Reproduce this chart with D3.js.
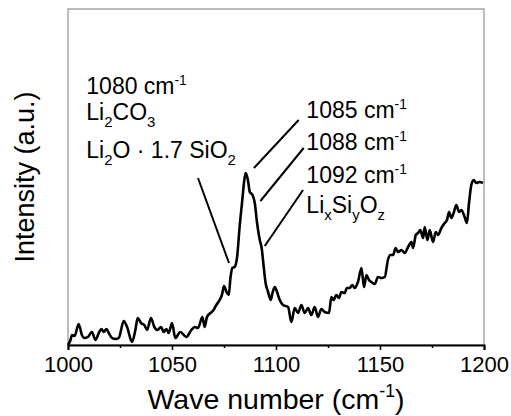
<!DOCTYPE html>
<html>
<head>
<meta charset="utf-8">
<style>
  body { margin: 0; background: #fff; }
  text { font-family: "Liberation Sans", Arial, sans-serif; fill: #000; }
</style>
</head>
<body>
<svg width="511" height="416"></svg>
<script src="https://cdn.jsdelivr.net/npm/d3@7/dist/d3.min.js"></script>
<script>
  var svg = d3.select("svg"),
      margin = {top: 9, right: 27, bottom: 71, left: 68},
      width = +svg.attr("width") - margin.left - margin.right,
      height = +svg.attr("height") - margin.top - margin.bottom,
      g = svg.append("g").attr("transform", "translate(" + margin.left + "," + margin.top + ")");

  // Raman spectrum (intensity in arbitrary units)
  var waveNumbers = [
    1000, 1001.2, 1001.9, 1003.2, 1005.1, 1006.7, 1007.9, 1009.5, 1011.5, 1013.2,
    1014.8, 1016.1, 1017.2, 1018.5, 1019.6, 1021.2, 1022.8, 1024.4, 1026.8, 1028.4,
    1030.8, 1032.4, 1033.5, 1035.1, 1036.7, 1038.0, 1039.9, 1041.5, 1043.1, 1044.7,
    1046.0, 1047.3, 1048.4, 1050.0, 1051.6, 1054.0, 1056.9, 1059.3, 1060.9, 1062.5,
    1064.6, 1065.7, 1066.8, 1068.5, 1070.0, 1071.3, 1072.9, 1074.0, 1075.0, 1076.2,
    1077.3, 1078.1, 1079.0, 1080.1, 1081.3, 1082.5, 1083.8, 1084.6, 1085.4, 1086.5,
    1087.4, 1088.7, 1089.8, 1090.9, 1092.2, 1093.1, 1094.1, 1095.0, 1096.2, 1097.5,
    1098.3, 1099.4, 1100.5, 1101.8, 1103.4, 1105.8, 1107.4, 1109.0, 1110.6, 1112.2,
    1113.8, 1115.4, 1117.0, 1118.6, 1120.2, 1121.8, 1123.4, 1125.5, 1126.6, 1127.7,
    1129.0, 1130.3, 1131.4, 1133.0, 1134.1, 1135.4, 1136.7, 1137.8, 1139.4, 1141.1,
    1142.3, 1143.5, 1144.7, 1145.9, 1147.5, 1149.0, 1150.7, 1152.3, 1153.8, 1155.0,
    1156.3, 1157.5, 1158.7, 1160.3, 1161.9, 1163.5, 1165.1, 1165.9, 1167.2, 1168.3,
    1169.4, 1170.7, 1171.5, 1172.8, 1173.9, 1175.5, 1176.8, 1177.9, 1179.5, 1181.1,
    1182.2, 1183.2, 1184.3, 1185.4, 1186.7, 1188.0, 1189.1, 1190.7, 1191.8, 1192.8,
    1193.9, 1195.0, 1196.3, 1197.9, 1199.5
  ];
  var intensities = [
    0, 5, 10, 9, 21, 10, 7, 8, 13, 5,
    12, 16, 13, 16, 12, 7, 6, 7, 24, 18,
    3, 15, 27, 22, 20, 15, 27, 18, 15, 18,
    13, 16, 12, 22, 7, 13, 8, 15, 18, 17,
    28, 18, 28, 32, 35, 40, 45, 50, 59, 53,
    50, 67, 77, 78, 88, 118, 145, 162, 172, 165,
    153, 150, 142, 122, 105, 97, 78, 62, 53, 45,
    52, 58, 53, 45, 40, 38, 23, 37, 32, 40,
    32, 37, 30, 38, 28, 36, 33, 32, 48, 45,
    50, 47, 53, 52, 57, 57, 60, 57, 63, 77,
    58, 70, 65, 63, 61, 68, 67, 68, 85, 90,
    90, 97, 93, 95, 92, 98, 103, 97, 110, 112,
    115, 107, 118, 105, 115, 103, 113, 110, 117, 122,
    125, 133, 127, 132, 140, 133, 135, 128, 122, 142,
    160, 165, 162, 163, 162
  ];

  var xTicks = [1000, 1050, 1100, 1150, 1200];
  var xMinorTicks = [1025, 1075, 1125, 1175];

  // peak assignments: label lines, leader start/end in data units
  var leftLabels = ["1080 cm-1", "Li2CO3", "Li2O \u00B7 1.7 SiO2"];
  var rightLabels = ["1085 cm-1", "1088 cm-1", "1092 cm-1", "LixSiyOz"];
  var leftLabelX = 1008.8, leftLabelY = [251, 225, 187];
  var rightLabelX = 1114.6, rightLabelY = [227, 195, 162, 132];
  var leaders = [
    [1062.5, 167, 1077.4, 82],
    [1089.4, 177, 1110.9, 225],
    [1092.5, 144, 1113.3, 197],
    [1094.6, 99, 1113.0, 155]
  ];

  var data = waveNumbers.map(function(w, i) { return {x: w, y: intensities[i]}; });

  var x = d3.scaleLinear().domain([1000, 1200]).range([0, width]);
  var y = d3.scaleLinear().domain([0, 336]).range([height, 0]);

  // grey frame
  g.append("rect")
      .attr("x", 0).attr("y", 0)
      .attr("width", width).attr("height", height)
      .attr("fill", "none")
      .attr("stroke", "#a6a6a6")
      .attr("stroke-width", 1.5);

  var xAxis = g.append("g")
      .attr("transform", "translate(0," + height + ")")
      .call(d3.axisBottom(x).tickValues(xTicks).tickSize(5).tickPadding(6).tickFormat(d3.format("d")));
  xAxis.select(".domain").attr("stroke-width", 2);
  xAxis.selectAll(".tick line").attr("stroke-width", 1.5);
  xAxis.selectAll("text")
      .attr("font-size", 22)
      .attr("font-family", "Liberation Sans, Arial, sans-serif");

  g.append("g")
      .attr("transform", "translate(0," + height + ")")
      .call(d3.axisBottom(x).tickValues(xMinorTicks).tickSize(3).tickFormat(""))
      .call(function(s) { s.select(".domain").remove(); })
      .selectAll(".tick line").attr("stroke-width", 1.5);

  var line = d3.line()
      .x(function(d) { return x(d.x); })
      .y(function(d) { return y(d.y); })
      .curve(d3.curveMonotoneX);

  g.append("path")
      .datum(data)
      .attr("fill", "none")
      .attr("stroke", "#000")
      .attr("stroke-width", 2.6)
      .attr("stroke-linejoin", "round")
      .attr("d", line);

  g.selectAll(".leader")
      .data(leaders)
    .enter().append("line")
      .attr("class", "leader")
      .attr("x1", function(d) { return x(d[0]); })
      .attr("y1", function(d) { return y(d[1]); })
      .attr("x2", function(d) { return x(d[2]); })
      .attr("y2", function(d) { return y(d[3]); })
      .attr("stroke", "#000")
      .attr("stroke-width", 2);

  // chemistry-style label: "cm-1" gets a superscript, digits/x,y,z after a letter become subscripts
  function chemText(sel, s) {
    if (s.indexOf("cm-1") >= 0) {
      sel.append("tspan").text(s.replace("-1", ""));
      sel.append("tspan").attr("dy", -9).attr("font-size", "0.6em").text("-1");
      return;
    }
    var re = /([A-Za-z])([0-9xyz]+)/g, last = 0, m, down = false, tokens = [];
    while ((m = re.exec(s)) !== null) {
      tokens.push([s.slice(last, m.index + 1), false]);
      tokens.push([m[2], true]);
      last = m.index + 1 + m[2].length;
    }
    tokens.push([s.slice(last), false]);
    tokens.forEach(function(t) {
      if (!t[0]) return;
      var ts = sel.append("tspan").text(t[0]);
      if (t[1]) { ts.attr("font-size", "0.65em"); if (!down) { ts.attr("dy", 7); down = true; } }
      else if (down) { ts.attr("dy", -7); down = false; }
    });
  }

  leftLabels.forEach(function(s, i) {
    var t = g.append("text")
        .attr("x", x(leftLabelX))
        .attr("y", y(leftLabelY[i]))
        .attr("font-size", 23);
    chemText(t, s);
  });
  rightLabels.forEach(function(s, i) {
    var t = g.append("text")
        .attr("x", x(rightLabelX))
        .attr("y", y(rightLabelY[i]))
        .attr("font-size", 23);
    chemText(t, s);
  });

  // axis titles
  var xt = svg.append("text")
      .attr("x", margin.left + width / 2)
      .attr("y", 409)
      .attr("text-anchor", "middle")
      .attr("font-size", 28.5);
  xt.append("tspan").text("Wave number (cm");
  xt.append("tspan").attr("dy", -12).attr("font-size", "0.62em").text("-1");
  xt.append("tspan").attr("dy", 12).text(")");

  svg.append("text")
      .attr("transform", "translate(34," + (margin.top + height / 2) + ") rotate(-90)")
      .attr("text-anchor", "middle")
      .attr("font-size", 27)
      .text("Intensity (a.u.)");
</script>
</body>
</html>
